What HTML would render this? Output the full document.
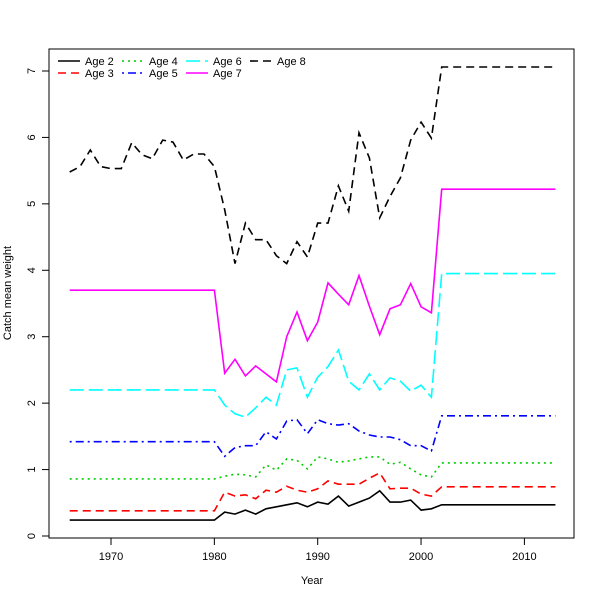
<!DOCTYPE html>
<html><head><meta charset="utf-8"><style>body{margin:0;background:#fff}svg{display:block;font-family:"Liberation Sans",sans-serif}</style></head>
<body>
<svg id="chart" width="600" height="600" viewBox="0 0 600 600" xmlns="http://www.w3.org/2000/svg">
<rect x="0" y="0" width="600" height="600" fill="#fff"/>
<g id="plot"></g>
</svg>
<script>
const years = [];
for (let y = 1966; y <= 2013; y++) years.push(y);
function flat(v, n) { return Array(n).fill(v); }
const age2 = [...flat(0.24,15),0.36,0.33,0.39,0.33,0.41,0.44,0.47,0.50,0.44,0.51,0.48,0.60,0.45,0.51,0.57,0.68,0.51,0.51,0.54,0.39,0.41,...flat(0.47,12)];
const age3 = [...flat(0.38,15),0.66,0.60,0.62,0.56,0.69,0.66,0.75,0.69,0.66,0.71,0.83,0.78,0.78,0.78,0.87,0.95,0.71,0.72,0.72,0.63,0.60,...flat(0.74,12)];
const age4 = [...flat(0.86,15),0.90,0.93,0.92,0.89,1.07,0.99,1.16,1.14,1.01,1.19,1.16,1.11,1.13,1.16,1.19,1.19,1.08,1.11,1.01,0.92,0.89,...flat(1.10,12)];
const age5 = [...flat(1.42,15),1.20,1.33,1.36,1.36,1.57,1.46,1.73,1.75,1.54,1.75,1.69,1.67,1.69,1.58,1.52,1.49,1.49,1.45,1.36,1.36,1.28,...flat(1.81,12)];
const age6 = [...flat(2.20,15),1.97,1.84,1.79,1.93,2.09,1.97,2.50,2.53,2.09,2.39,2.55,2.80,2.33,2.20,2.44,2.20,2.38,2.33,2.18,2.27,2.09,...flat(3.95,12)];
const age7 = [...flat(3.70,15),2.45,2.66,2.41,2.56,2.44,2.32,3.00,3.37,2.94,3.22,3.81,3.64,3.48,3.92,3.46,3.03,3.42,3.48,3.80,3.45,3.36,...flat(5.22,12)];
const age8 = [5.48,5.56,5.81,5.56,5.53,5.53,5.92,5.74,5.68,5.96,5.93,5.66,5.75,5.75,5.56,4.91,4.10,4.71,4.46,4.46,4.22,4.10,4.43,4.20,4.71,4.71,5.27,4.89,6.07,5.69,4.79,5.11,5.39,5.96,6.23,5.99,...flat(7.06,12)];
const xTicks = [1970,1980,1990,2000,2010];
const yTicks = [0,1,2,3,4,5,6,7];
const seriesNames = ["Age 2","Age 3","Age 4","Age 5","Age 6","Age 7","Age 8"];

const NS = "http://www.w3.org/2000/svg";
const g = document.getElementById('plot');
const X = v => 111 + (v - 1970) * 10.335;
const Y = v => 536 - v * 66.43;
function el(tag, attrs, parent) {
  const e = document.createElementNS(NS, tag);
  for (const k in attrs) e.setAttribute(k, attrs[k]);
  (parent || g).appendChild(e);
  return e;
}
const frame = el('rect', {x:49, y:49, width:525, height:489, fill:'none', stroke:'#000', 'stroke-width':1});


xTicks.forEach(t => {
  const l = el('line', {x1:X(t), x2:X(t), y1:538, y2:545, stroke:'#000'});
  
  
  const tx = el('text', {x:X(t), y:560, 'font-size':11, 'text-anchor':'middle'});
  tx.textContent = t;
  
  
});
yTicks.forEach(t => {
  const l = el('line', {x1:42, x2:49, y1:Y(t), y2:Y(t), stroke:'#000'});
  
  
  const tx = el('text', {x:0, y:0, 'font-size':11, 'text-anchor':'middle', transform:`translate(35,${Y(t)}) rotate(-90)`});
  tx.textContent = t;
  
  
});
const xt = el('text', {x:312, y:584, 'font-size':11, 'text-anchor':'middle'});
xt.textContent = 'Year';


const yt = el('text', {x:0, y:0, 'font-size':11, 'text-anchor':'middle', transform:'translate(11,293) rotate(-90)'});
yt.textContent = 'Catch mean weight';



const styles = [
  {c:'#000', d:''}, {c:'#ff0000', d:'8,5'}, {c:'#00cc00', d:'2,4'},
  {c:'#0000ff', d:'2,4,8,4'}, {c:'#00ffff', d:'14,5'}, {c:'#ff00ff', d:''}, {c:'#000', d:'8,5'}
];
const data = [age2,age3,age4,age5,age6,age7,age8];
data.forEach((s, i) => {
  const pts = s.map((v, j) => X(years[j]).toFixed(1) + ',' + Y(v).toFixed(1)).join(' ');
  const p = el('polyline', {points:pts, fill:'none', stroke:styles[i].c, 'stroke-width':1.6, 'stroke-dasharray':styles[i].d});
  
  
});
// legend
const legPos = [[58,61],[58,73],[122,61],[122,73],[186,61],[186,73],[250,61]];
seriesNames.forEach((n, i) => {
  const [lx, ly] = legPos[i];
  const l = el('line', {x1:lx, x2:lx+22, y1:ly, y2:ly, stroke:styles[i].c, 'stroke-width':1.6, 'stroke-dasharray':styles[i].d});
  
  
  const t = el('text', {x:lx+27, y:ly+4, 'font-size':11});
  t.textContent = n;
  
  
});
</script>
</body></html>
